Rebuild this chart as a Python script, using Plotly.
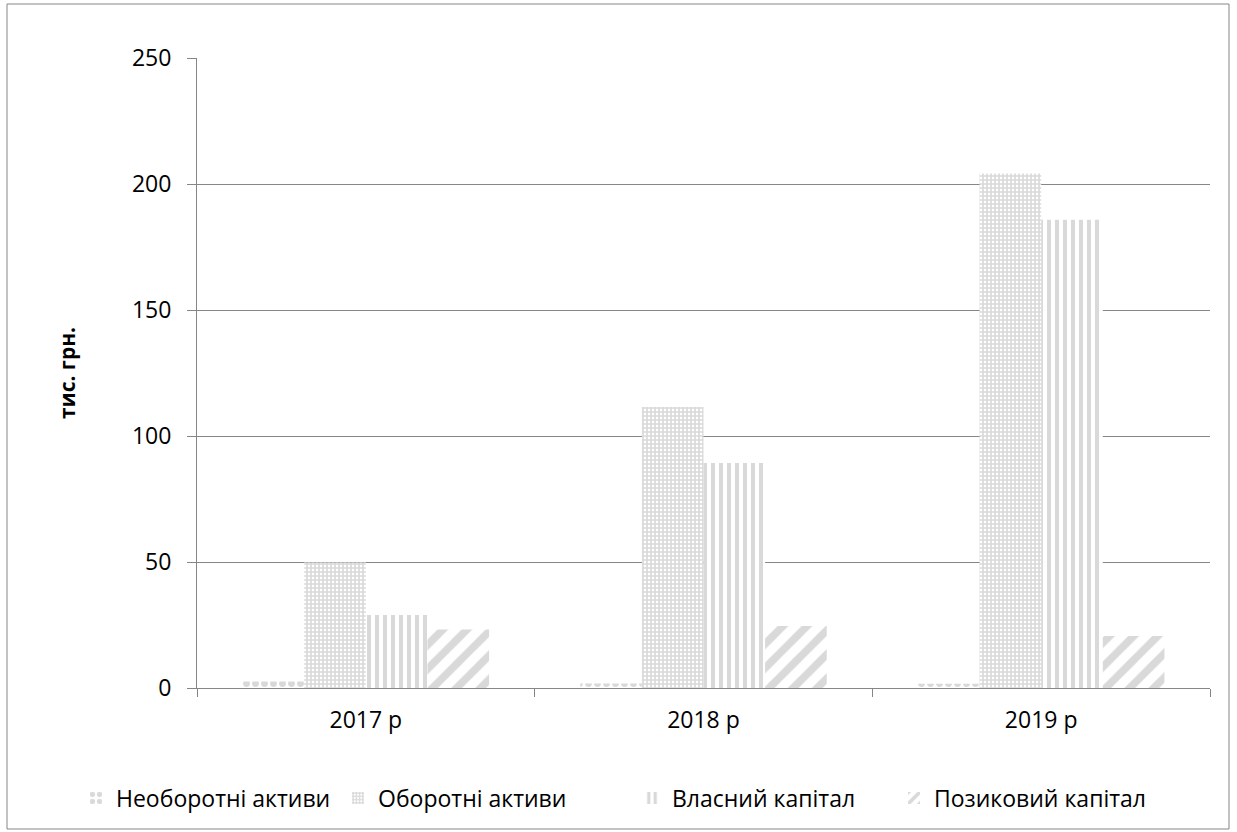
import plotly.graph_objects as go

# Balance-sheet structure by year, thousand UAH
years = ["2017 р", "2018 р", "2019 р"]
series_names = ["Необоротні активи", "Оборотні активи", "Власний капітал", "Позиковий капітал"]
non_current_assets = [2.6, 1.8, 1.7]
current_assets = [49.8, 111.5, 204.2]
equity = [29.0, 89.3, 185.8]
borrowed_capital = [23.2, 24.6, 20.6]

y_ticks = [0, 50, 100, 150, 200, 250]

FONT = "Open Sans"
PAT = "#d9d9d9"
AXIS = "#868686"

W, H = 1237, 832
L, R, T, B = 197, 27, 58, 144

patterns = [
    dict(shape=".", size=9, solidity=0.45),
    dict(shape="+", size=4, solidity=0.65),
    dict(shape="|", size=8, solidity=0.5),
    dict(shape="/", size=17, solidity=0.45),
]
values = [non_current_assets, current_assets, equity, borrowed_capital]

pw, ph = W - L - R, H - T - B
def px_x(x):
    return (x - L) / pw
def px_y(y):
    return (H - B - y) / ph

# left edge of each legend entry's text
legend_text_x = [118, 380, 674, 936]
legend_keys = ["legend", "legend2", "legend3", "legend4"]

fig = go.Figure()
for name, vals, pat, key in zip(series_names, values, patterns, legend_keys):
    fig.add_trace(go.Bar(
        x=years, y=vals, name=name, legend=key,
        marker=dict(
            color="white",
            line=dict(width=0),
            pattern=dict(fgcolor=PAT, bgcolor="white", fillmode="replace", **pat),
        ),
    ))

legend_style = dict(orientation="h", xanchor="left", yanchor="middle",
                    font=dict(family=FONT, size=23, color="black"),
                    itemwidth=30, bgcolor="rgba(0,0,0,0)", borderwidth=0)
legends = {key: dict(x=px_x(tx - 42), y=px_y(798), **legend_style)
           for key, tx in zip(legend_keys, legend_text_x)}

# outer chart frame, expressed in plot-area (paper) coordinates
fig.add_shape(type="rect", xref="paper", yref="paper",
              x0=px_x(7), x1=px_x(1229), y0=px_y(829), y1=px_y(4),
              line=dict(color=AXIS, width=1), fillcolor="rgba(0,0,0,0)", layer="below")

fig.update_layout(
    width=W, height=H,
    margin=dict(l=L, r=R, t=T, b=B, pad=0),
    paper_bgcolor="white", plot_bgcolor="white",
    barmode="group", bargap=0.27, bargroupgap=0,
    font=dict(family=FONT, size=23, color="black"),
    showlegend=True,
    **legends,
    xaxis=dict(
        type="category", showline=True, linecolor=AXIS, linewidth=1,
        ticks="outside", tickson="boundaries", ticklen=8, tickcolor=AXIS,
        showgrid=False, ticklabelstandoff=11,
        tickfont=dict(family=FONT, size=23, color="black"),
    ),
    yaxis=dict(
        range=[0, 250], tickvals=y_ticks, showline=True, linecolor=AXIS, linewidth=1,
        ticks="outside", ticklen=9, tickcolor=AXIS,
        showgrid=True, gridcolor=AXIS, gridwidth=1, zeroline=False,
        ticklabelstandoff=11,
        tickfont=dict(family=FONT, size=23, color="black"),
        title=dict(text="<b>тис. грн.</b>", standoff=50,
                   font=dict(family=FONT, size=21, color="black")),
    ),
)

fig.write_html("out.html")
